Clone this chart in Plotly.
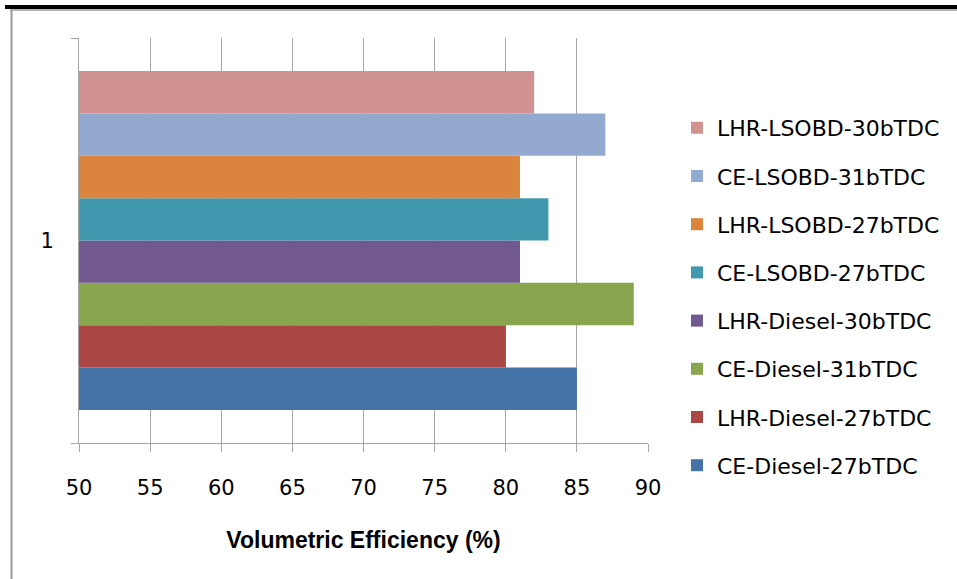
import plotly.graph_objects as go

category = ["1"]
series_names = [
    "CE-Diesel-27bTDC",
    "LHR-Diesel-27bTDC",
    "CE-Diesel-31bTDC",
    "LHR-Diesel-30bTDC",
    "CE-LSOBD-27bTDC",
    "LHR-LSOBD-27bTDC",
    "CE-LSOBD-31bTDC",
    "LHR-LSOBD-30bTDC",
]
series_values = [85, 80, 89, 81, 83, 81, 87, 82]
series_colors = ["#4572A7", "#AA4643", "#89A54E", "#71588F",
                 "#4198AF", "#DB843D", "#93A9CF", "#D19392"]
x_ticks = [50, 55, 60, 65, 70, 75, 80, 85, 90]

fig = go.Figure()
n = len(series_names)
for i, (name, val, col) in enumerate(zip(series_names, series_values, series_colors)):
    fig.add_trace(go.Bar(
        y=category, x=[val], name=name, orientation="h",
        marker=dict(color=col, line=dict(width=0)),
        legendgroup=f"g{i}", legendrank=100 + (n - i),
    ))

# plot area in pixels
L, R, T, B = 79, 648, 38, 443
W, H = 957, 579
pw, ph = R - L, B - T

def px_x(p):
    return (p - L) / pw

def px_y(p):
    return (B - p) / ph

fig.update_layout(
    width=W, height=H,
    margin=dict(l=L, r=W - R, t=T, b=H - B, pad=0),
    paper_bgcolor="white", plot_bgcolor="white",
    barmode="group", bargap=0.163, bargroupgap=0,
    font=dict(family="DejaVu Sans", size=21, color="#000000"),
    showlegend=True,
    legend=dict(
        x=px_x(677), xanchor="left",
        y=px_y(107), yanchor="top",
        traceorder="grouped",
        tracegroupgap=16.6,
        font=dict(family="DejaVu Sans", size=22, color="#000000"),
        bgcolor="rgba(0,0,0,0)",
        itemclick=False,
    ),
    xaxis=dict(
        range=[50, 90], tickvals=x_ticks, ticktext=[str(v) for v in x_ticks],
        showgrid=True, gridcolor="#A6A6A6", gridwidth=1,
        showline=True, linecolor="#A6A6A6", linewidth=1,
        ticks="outside", ticklen=8, tickcolor="#A6A6A6",
        ticklabelstandoff=18, zeroline=False,
        title=dict(text="<b>Volumetric Efficiency (%)</b>",
                   font=dict(family="Liberation Sans", size=23, color="#000000"),
                   standoff=32),
    ),
    yaxis=dict(
        type="category", range=[-0.5, 0.5],
        showgrid=False, showline=True, linecolor="#A6A6A6", linewidth=1,
        ticks="outside", ticklen=7, tickcolor="#A6A6A6",
        tickson="boundaries", ticklabelstandoff=20, zeroline=False,
    ),
    shapes=[
        dict(type="line", xref="paper", yref="paper",
             x0=px_x(5), x1=px_x(957), y0=px_y(7), y1=px_y(7),
             line=dict(color="#000000", width=4)),
        dict(type="line", xref="paper", yref="paper",
             x0=px_x(10), x1=px_x(957), y0=px_y(10), y1=px_y(10),
             line=dict(color="#9A9A9A", width=1.5)),
        dict(type="line", xref="paper", yref="paper",
             x0=px_x(11.5), x1=px_x(11.5), y0=px_y(10), y1=px_y(579),
             line=dict(color="#9A9A9A", width=2)),
    ],
)

fig.write_html("out.html", config={"displayModeBar": False},
               post_script="document.body.style.margin='0';document.body.style.padding='0';")
